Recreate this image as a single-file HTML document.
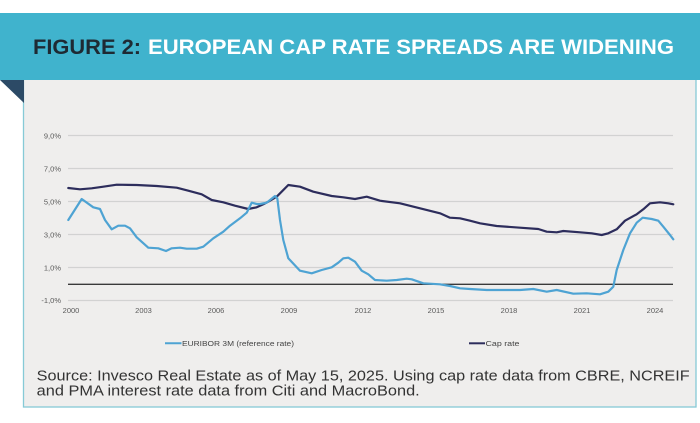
<!DOCTYPE html>
<html>
<head>
<meta charset="utf-8">
<style>
  html, body { margin: 0; padding: 0; background: #ffffff; }
  svg { display: block; }
</style>
</head>
<body>
<svg width="700" height="423" viewBox="0 0 700 423" xmlns="http://www.w3.org/2000/svg">
  <rect x="0" y="0" width="700" height="423" fill="#ffffff"/>
  <!-- content box -->
  <rect x="23.5" y="79" width="672.5" height="328" fill="#efeeed" stroke="#86cad6" stroke-width="1.3"/>
  <!-- header band -->
  <rect x="0" y="13" width="700" height="67" fill="#40b3cd"/>
  <!-- fold triangle -->
  <polygon points="0,80 24,80 24,103" fill="#2c4a66"/>
  <!-- title -->
  <text x="33" y="54" font-family="'Liberation Sans Narrow','Liberation Sans',sans-serif" font-weight="bold" font-size="21" fill="#1e2a33" textLength="108" lengthAdjust="spacingAndGlyphs">FIGURE 2:</text>
  <text x="148" y="54" font-family="'Liberation Sans Narrow','Liberation Sans',sans-serif" font-weight="bold" font-size="21" fill="#ffffff" textLength="526" lengthAdjust="spacingAndGlyphs">EUROPEAN CAP RATE SPREADS ARE WIDENING</text>

  <!-- gridlines -->
  <g stroke="#d2d2d2" stroke-width="1.2">
    <line x1="68" y1="135.5" x2="673" y2="135.5"/>
    <line x1="68" y1="168.5" x2="673" y2="168.5"/>
    <line x1="68" y1="201.5" x2="673" y2="201.5"/>
    <line x1="68" y1="234.5" x2="673" y2="234.5"/>
    <line x1="68" y1="267.5" x2="673" y2="267.5"/>
    <line x1="68" y1="300.5" x2="673" y2="300.5"/>
  </g>
  <line x1="68" y1="284.3" x2="673" y2="284.3" stroke="#3a3a3a" stroke-width="1.4"/>

  <!-- y labels -->
  <g font-family="'Liberation Sans',sans-serif" font-size="7.5" fill="#5a5a5a" text-anchor="end">
    <text x="61" y="138.3">9,0%</text>
    <text x="61" y="171.3">7,0%</text>
    <text x="61" y="204.3">5,0%</text>
    <text x="61" y="237.3">3,0%</text>
    <text x="61" y="270.3">1,0%</text>
    <text x="61" y="303">-1,0%</text>
  </g>
  <!-- x labels -->
  <g font-family="'Liberation Sans',sans-serif" font-size="7.5" fill="#5a5a5a" text-anchor="middle">
    <text x="71" y="313">2000</text>
    <text x="143.5" y="313">2003</text>
    <text x="216" y="313">2006</text>
    <text x="289" y="313">2009</text>
    <text x="363" y="313">2012</text>
    <text x="436" y="313">2015</text>
    <text x="509" y="313">2018</text>
    <text x="582" y="313">2021</text>
    <text x="655" y="313">2024</text>
  </g>

  <!-- series -->
  <polyline fill="none" stroke="#2d2d5c" stroke-width="2.2" stroke-linejoin="round" stroke-linecap="round"
    points="68.3,188 80,189.3 91.7,188.3 103.3,186.7 116.7,184.7 136.7,185 156.7,186 176.7,187.7 188.3,190.7 201.7,194.3 211.7,200 223.3,202.3 235,205.7 248.3,209 256.7,207.3 263.3,204.3 268.3,201.7 276.7,196.7 288.3,185 300,186.7 313.3,191.7 331.7,196 343.3,197.3 355,199 366.7,196.7 380,200.7 400,203.3 420,208.3 440,213.3 450,217.7 460,218.3 470,220.7 480,223.3 496.7,226 520,227.7 538.3,229 546.7,231.7 556.7,232.3 563.3,231 580,232.3 591.7,233.3 601.7,235 608.3,233.3 616.7,229.3 625,220.7 636.7,214.3 643.3,209.3 650,203.3 660,202.3 668.3,203.3 673.3,204.3"/>
  <polyline fill="none" stroke="#4ea3d3" stroke-width="2.2" stroke-linejoin="round" stroke-linecap="round"
    points="68.3,220 81.7,199 93.3,207.3 100,209 105,220 111.7,229.3 118.3,225.7 125,225.7 130,228.3 136.7,237.3 148.3,247.7 158.3,248.3 166,251 171.7,248.3 180,247.7 186.7,248.7 196.7,248.7 203.3,246.7 213.3,238.3 223.3,231.7 230,225.7 240,218.3 246.7,212.7 251.7,202.7 256.7,204 260,204 266.7,202.7 275,196 277.3,198.3 280,220 283.3,240 288.3,258.3 300,270.7 311.7,273.3 321.7,270 331.7,267.3 338.3,262.7 343.3,258.3 348.3,257.7 355,261.7 361.7,270.7 368.3,274.3 375,280 386.7,280.7 396.7,280 406.7,278.7 411.7,279.3 423.3,283.3 440,284.3 450,286 460,288.3 470,289 486.7,290 520,290 533.3,289 546.7,291.7 556.7,290 573.3,293.7 586.7,293.3 600,294.3 608.3,291.7 613.3,286.7 616.7,270 623.3,250 630,233.3 636.7,222.7 642.7,217.7 651.7,219 658.3,220.7 663.3,226.7 670,235 673.3,239.3"/>

  <!-- legend -->
  <line x1="165" y1="343.3" x2="181.5" y2="343.3" stroke="#4ea3d3" stroke-width="2"/>
  <text x="182" y="345.8" font-family="'Liberation Sans Narrow','Liberation Sans',sans-serif" font-size="7" fill="#444444" textLength="112" lengthAdjust="spacingAndGlyphs">EURIBOR 3M (reference rate)</text>
  <line x1="469" y1="343.3" x2="485" y2="343.3" stroke="#2d2d5c" stroke-width="2"/>
  <text x="485.5" y="345.8" font-family="'Liberation Sans Narrow','Liberation Sans',sans-serif" font-size="7" fill="#444444" textLength="34" lengthAdjust="spacingAndGlyphs">Cap rate</text>

  <!-- source -->
  <text x="36.7" y="380.5" font-family="'Liberation Sans',sans-serif" font-size="15" fill="#333333" textLength="653" lengthAdjust="spacingAndGlyphs">Source: Invesco Real Estate as of May 15, 2025. Using cap rate data from CBRE, NCREIF</text>
  <text x="36.7" y="395.5" font-family="'Liberation Sans',sans-serif" font-size="15" fill="#333333" textLength="383" lengthAdjust="spacingAndGlyphs">and PMA interest rate data from Citi and MacroBond.</text>
</svg>
</body>
</html>
